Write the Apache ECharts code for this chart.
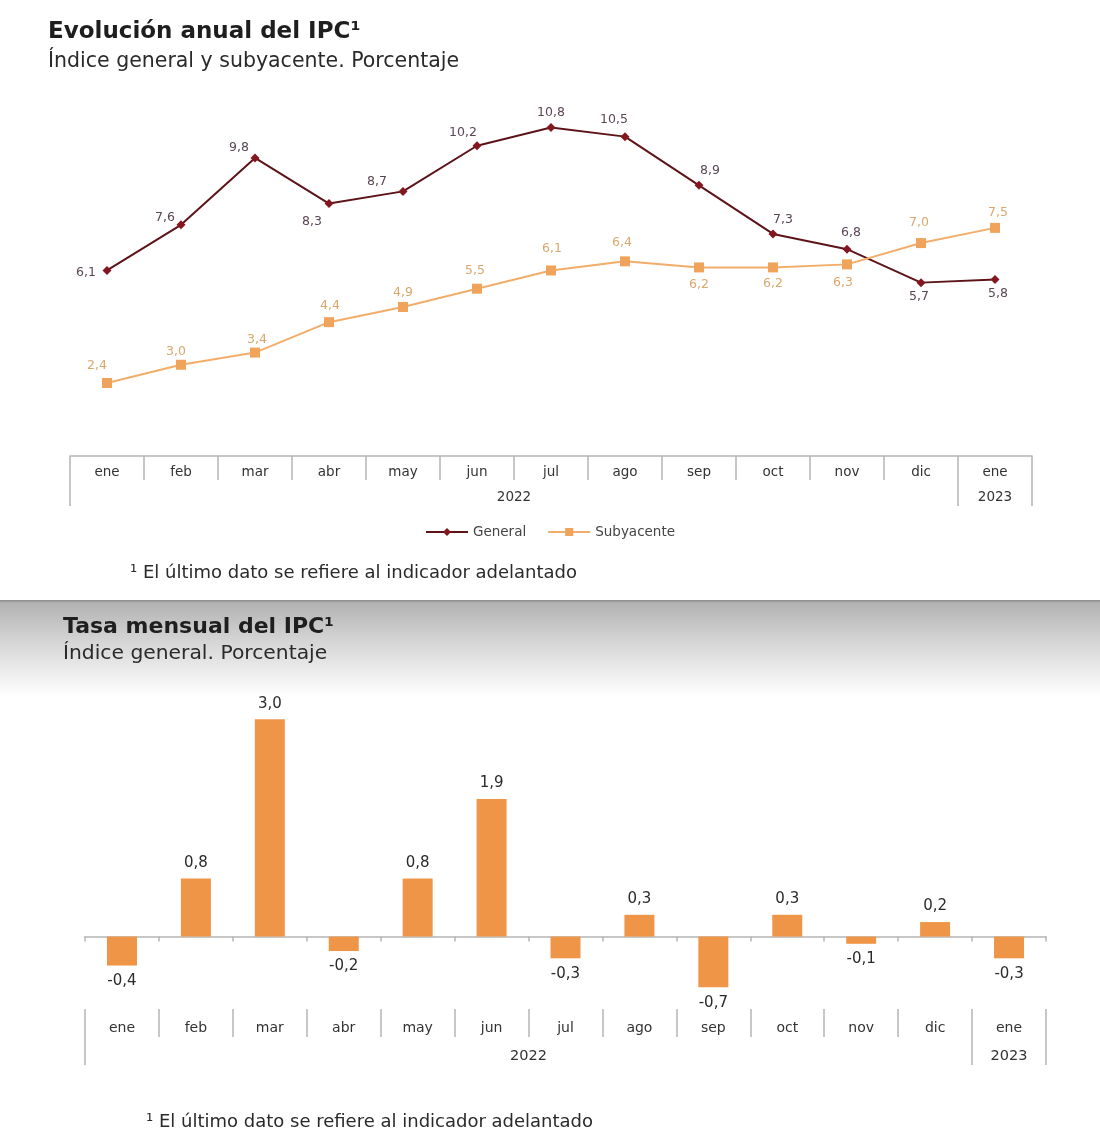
<!DOCTYPE html>
<html><head><meta charset="utf-8">
<script src="https://cdn.jsdelivr.net/npm/echarts@6/dist/echarts.min.js"></script>
<style>
html,body{margin:0;padding:0;background:#fff;}
#band{position:absolute;left:0;top:600px;width:1100px;height:100px;background:linear-gradient(to bottom,#8a8a8a 0px,#b2b2b2 3px,#d4d4d4 40px,#ffffff 96px);}
#chart{position:absolute;left:0;top:0;width:1100px;height:1144px;}
</style></head><body>
<div id="band"></div><div id="chart"></div>
<script>
// ---- data ----
const months = ['ene','feb','mar','abr','may','jun','jul','ago','sep','oct','nov','dic','ene'];
const general = [6.1,7.6,9.8,8.3,8.7,10.2,10.8,10.5,8.9,7.3,6.8,5.7,5.8];
const subyacente = [2.4,3.0,3.4,4.4,4.9,5.5,6.1,6.4,6.2,6.2,6.3,7.0,7.5];
const mensual = [-0.4,0.8,3.0,-0.2,0.8,1.9,-0.3,0.3,-0.7,0.3,-0.1,0.2,-0.3];
// year row: half-month slots (27 points), years centred on their span
const yearSlots = Array.from({length:27}, () => '');
yearSlots[12] = '2022';
yearSlots[25] = '2023';
const yearTickSlots = [0,24,26];

// label placement (offsets from each point)
const generalLabelOffset = [[-21,2],[-16,-7],[-16,-10],[-17,18],[-26,-10],[-14,-13],[0,-15],[-11,-17],[11,-15],[10,-14],[4,-16],[-2,14],[3,14]];
const subLabelOffset = [[-10,-17],[-5,-13],[2,-13],[1,-16],[0,-14],[-2,-18],[1,-22],[-3,-19],[0,17],[0,16],[-4,18],[-2,-20],[3,-15]];

const FONT = '"DejaVu Sans", "Liberation Sans", sans-serif';
const fmt = v => v.toFixed(1).replace('.', ',');
const lineCol = '#b5b5b5';

const chart = echarts.init(document.getElementById('chart'), null, {renderer:'canvas'});

function txt(text, left, top, size, bold, lh) {
  return {text, left, top, padding:0,
    textStyle:{fontFamily:FONT, fontSize:size, fontWeight: bold ? 'bold' : 'normal', color: bold ? '#1e1e1e' : '#2a2a2a', lineHeight:lh}};
}

const option = {
  animation: false,
  backgroundColor: 'transparent',
  textStyle: {fontFamily: FONT},
  title: [
    txt('Evolución anual del IPC¹', 48, 19, 23, true, 26),
    txt('Índice general y subyacente. Porcentaje', 48, 50, 20.5, false, 24),
    txt('¹ El último dato se refiere al indicador adelantado', 130, 562, 18, false, 22),
    txt('Tasa mensual del IPC¹', 63, 614, 22, true, 26),
    txt('Índice general. Porcentaje', 63, 642, 20.3, false, 24),
    txt('¹ El último dato se refiere al indicador adelantado', 146, 1111, 18, false, 22)
  ],
  legend: {
    data: ['General','Subyacente'],
    left: 'center', top: 520,
    itemWidth: 42, itemHeight: 10, itemGap: 21,
    textStyle: {fontFamily:FONT, fontSize:13.5, color:'#444'}
  },
  grid: [
    {left:70, right:68, top:91, height:365, outerBoundsMode:'none', containLabel:false},
    {left:85, right:54, top:683, height:326, outerBoundsMode:'none', containLabel:false}
  ],
  xAxis: [
    {gridIndex:0, type:'category', data:months, boundaryGap:true, position:'bottom',
     axisLine:{show:true, lineStyle:{color:lineCol, width:1.5}},
     axisTick:{show:true, interval:0, length:24, lineStyle:{color:lineCol, width:1.5}},
     axisLabel:{interval:0, margin:9, fontSize:13.5, color:'#333', fontFamily:FONT},
     splitLine:{show:false}},
    {gridIndex:0, type:'category', data:yearSlots, boundaryGap:false, position:'bottom',
     axisLine:{show:false, onZero:false},
     axisTick:{show:true, interval:(i) => yearTickSlots.includes(i), length:50, lineStyle:{color:lineCol, width:1.5}},
     axisLabel:{interval:0, margin:34, fontSize:13.5, color:'#333', fontFamily:FONT},
     splitLine:{show:false}},
    {gridIndex:1, type:'category', data:months, boundaryGap:true, position:'bottom',
     axisLine:{show:true, onZero:true, lineStyle:{color:lineCol, width:1.5}},
     axisTick:{show:true, interval:0, length:5, lineStyle:{color:lineCol, width:1.5}},
     axisLabel:{show:false}, splitLine:{show:false}},
    {gridIndex:1, type:'category', data:months, boundaryGap:true, position:'bottom',
     axisLine:{show:false, onZero:false},
     axisTick:{show:true, interval:0, length:28, lineStyle:{color:lineCol, width:1.5}},
     axisLabel:{interval:0, margin:12, fontSize:14, color:'#333', fontFamily:FONT},
     splitLine:{show:false}},
    {gridIndex:1, type:'category', data:yearSlots, boundaryGap:false, position:'bottom',
     axisLine:{show:false, onZero:false},
     axisTick:{show:true, interval:(i) => yearTickSlots.includes(i), length:56, lineStyle:{color:lineCol, width:1.5}},
     axisLabel:{interval:0, margin:40, fontSize:14.5, color:'#333', fontFamily:FONT},
     splitLine:{show:false}}
  ],
  yAxis: [
    {gridIndex:0, type:'value', min:0, max:12, show:false},
    {gridIndex:1, type:'value', min:-1, max:3.5, show:false}
  ],
  series: [
    {name:'General', type:'line', xAxisIndex:0, yAxisIndex:0,
     symbol:'diamond', symbolSize:9,
     itemStyle:{color:'#84161f'},
     lineStyle:{color:'#5c1419', width:2},
     data: general.map((v,i) => ({value:v, label:{offset:generalLabelOffset[i]}})),
     label:{show:true, position:'inside', formatter:p => fmt(p.value), fontSize:12.5, color:'#5a4656', fontFamily:FONT}},
    {name:'Subyacente', type:'line', xAxisIndex:0, yAxisIndex:0,
     symbol:'rect', symbolSize:10,
     itemStyle:{color:'#f0a35a'},
     lineStyle:{color:'#f2ad6a', width:2},
     data: subyacente.map((v,i) => ({value:v, label:{offset:subLabelOffset[i]}})),
     label:{show:true, position:'inside', formatter:p => fmt(p.value), fontSize:12.5, color:'#d8a86e', fontFamily:FONT}},
    {name:'Tasa mensual', type:'bar', xAxisIndex:2, yAxisIndex:1,
     barWidth:30,
     itemStyle:{color:'#ef9548'},
     data: mensual.map(v => ({value:v, label:{position: v < 0 ? 'bottom' : 'top'}})),
     label:{show:true, distance:8, formatter:p => fmt(p.value), fontSize:15, color:'#2a2a2a', fontFamily:FONT}}
  ]
};
chart.setOption(option);
</script>
</body></html>
